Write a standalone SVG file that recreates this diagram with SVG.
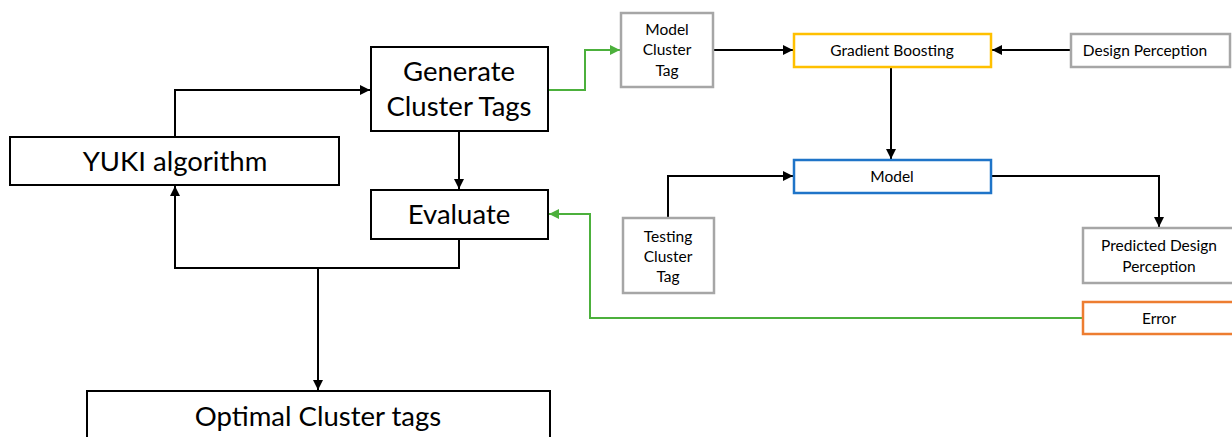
<svg xmlns="http://www.w3.org/2000/svg" width="1232" height="437" viewBox="0 0 1232 437">
<style>
.big{font-family:Lato,"Open Sans","Liberation Sans",sans-serif;font-size:27.5px;fill:#000;text-anchor:middle}
.sm{font-family:Lato,"Open Sans","Liberation Sans",sans-serif;font-size:15.5px;fill:#000;text-anchor:middle}
.bk{fill:#fff;stroke:#000;stroke-width:2}
.gr{fill:#fff;stroke:#A6A6A6;stroke-width:2.5}
.c{fill:none;stroke:#000;stroke-width:2}
.g{fill:none;stroke:#4CB03C;stroke-width:2}
</style>
<defs>
<marker id="ab" viewBox="0 0 10 10" refX="10" refY="5" markerWidth="5" markerHeight="5" orient="auto" markerUnits="strokeWidth"><path d="M0,0 L10,5 L0,10 z" fill="#000"/></marker>
<marker id="ag" viewBox="0 0 10 10" refX="10" refY="5" markerWidth="5" markerHeight="5" orient="auto" markerUnits="strokeWidth"><path d="M0,0 L10,5 L0,10 z" fill="#4CB03C"/></marker>
</defs>
<rect width="1232" height="437" fill="#fff"/>
<g id="connectors">
<path class="c" d="M175,137 V90 H370" marker-end="url(#ab)"/>
<path class="c" d="M459,131 V189" marker-end="url(#ab)"/>
<path class="c" d="M459,239 V268 H175 V186" marker-end="url(#ab)"/>
<path class="c" d="M318,268 V390" marker-end="url(#ab)"/>
<path class="g" d="M548,90 H585 V50 H620" marker-end="url(#ag)"/>
<path class="c" d="M713,50 H793" marker-end="url(#ab)"/>
<path class="c" d="M1071,50 H992" marker-end="url(#ab)"/>
<path class="c" d="M891,67 V159" marker-end="url(#ab)"/>
<path class="c" d="M668,218 V176 H793" marker-end="url(#ab)"/>
<path class="c" d="M991,176 H1159 V227" marker-end="url(#ab)"/>
<path class="g" d="M1083,318 H590 V214 H549" marker-end="url(#ag)"/>
</g>
<g id="yuki"><rect class="bk" x="10" y="137" width="329" height="48"/><text class="big" x="175" y="171">YUKI algorithm</text></g>
<g id="generate"><rect class="bk" x="371" y="47" width="177" height="84"/><text class="big" x="459" y="81">Generate</text><text class="big" x="459" y="116">Cluster Tags</text></g>
<g id="evaluate"><rect class="bk" x="371" y="190" width="177" height="49"/><text class="big" x="459" y="224">Evaluate</text></g>
<g id="optimal"><rect class="bk" x="87" y="391" width="463" height="60"/><text class="big" x="318" y="426">Optimal Cluster tags</text></g>
<g id="model-cluster-tag"><rect class="gr" x="621" y="13" width="92" height="74"/><text class="sm" x="667" y="35">Model</text><text class="sm" x="667" y="55">Cluster</text><text class="sm" x="667" y="76">Tag</text></g>
<g id="gradient-boosting"><rect fill="#fff" stroke="#FFC000" stroke-width="2.5" x="794" y="34" width="197" height="33"/><text class="sm" x="892" y="56">Gradient Boosting</text></g>
<g id="design-perception"><rect class="gr" x="1071" y="34" width="159" height="33"/><text class="sm" x="1145" y="56">Design Perception</text></g>
<g id="model"><rect fill="#fff" stroke="#1F74C8" stroke-width="2.5" x="794" y="160" width="197" height="33"/><text class="sm" x="892" y="182">Model</text></g>
<g id="testing-cluster-tag"><rect class="gr" x="623" y="218" width="91" height="75"/><text class="sm" x="668" y="242">Testing</text><text class="sm" x="668" y="262">Cluster</text><text class="sm" x="668" y="282">Tag</text></g>
<g id="predicted"><rect class="gr" x="1083" y="228" width="152" height="55"/><text class="sm" x="1159" y="251">Predicted Design</text><text class="sm" x="1159" y="272">Perception</text></g>
<g id="error"><rect fill="#fff" stroke="#ED7D31" stroke-width="2.5" x="1083" y="302" width="152" height="32"/><text class="sm" x="1159" y="324">Error</text></g>
</svg>
